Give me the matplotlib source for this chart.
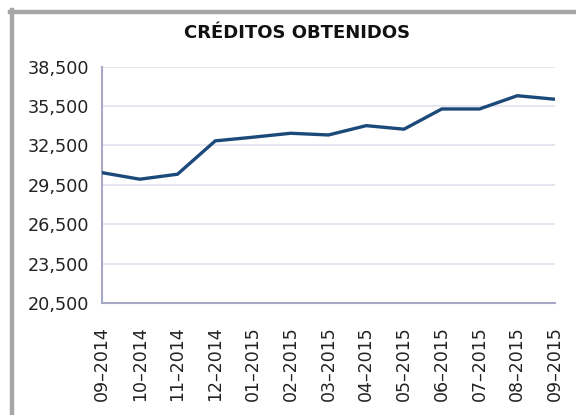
import matplotlib
matplotlib.use("Agg")
import matplotlib.pyplot as plt
from matplotlib.lines import Line2D
from matplotlib.ticker import FuncFormatter

meses = ["09–2014", "10–2014", "11–2014", "12–2014", "01–2015", "02–2015", "03–2015",
         "04–2015", "05–2015", "06–2015", "07–2015", "08–2015", "09–2015"]
creditos = [30430, 29930, 30310, 32850, 33130, 33430, 33300,
            34010, 33740, 35280, 35280, 36290, 36020]
yticks = [20500, 23500, 26500, 29500, 32500, 35500, 38500]

W, H = 576, 415
fig = plt.figure(figsize=(W / 100, H / 100), dpi=100)
ax = fig.add_axes([102 / W, 1 - 303 / H, (555 - 102) / W, (303 - 66.7) / H])

# marco gris exterior
fig.add_artist(Line2D([12 / W, 12 / W], [0, 1 - 10 / H], color="#a6a6a6", lw=3.2,
                      transform=fig.transFigure))
fig.add_artist(Line2D([10 / W, 1], [1 - 12 / H, 1 - 12 / H], color="#a6a6a6", lw=3.2,
                      transform=fig.transFigure))

x = list(range(len(meses)))
ax.plot(x, creditos, color="#1b4a7a", lw=2.4, solid_joinstyle="round", zorder=3)

ax.set_xlim(0, len(meses) - 1)
ax.set_ylim(yticks[0], yticks[-1])
ax.set_yticks(yticks)
ax.yaxis.set_major_formatter(FuncFormatter(lambda v, p: f"{int(v):,}"))
ax.set_xticks(x)
ax.set_xticklabels(meses, rotation=90)
ax.grid(axis="y", color="#e2e2ee", lw=1.2)
ax.set_axisbelow(True)

for s in ["top", "right"]:
    ax.spines[s].set_visible(False)
for s in ["left", "bottom"]:
    ax.spines[s].set_color("#a8a8c8")
    ax.spines[s].set_linewidth(1.5)

ax.tick_params(axis="y", length=0, pad=9, colors="#222222", labelsize=12.7)
ax.tick_params(axis="x", length=0, pad=17, colors="#222222", labelsize=12.5)
for lab in ax.get_yticklabels() + ax.get_xticklabels():
    lab.set_family("DejaVu Sans")

fig.text(297 / W, 1 - 33 / H, "CRÉDITOS OBTENIDOS", ha="center", va="center",
         fontsize=13, fontweight="bold", family="DejaVu Sans", color="#111111")

fig.savefig("out.png", dpi=100)
